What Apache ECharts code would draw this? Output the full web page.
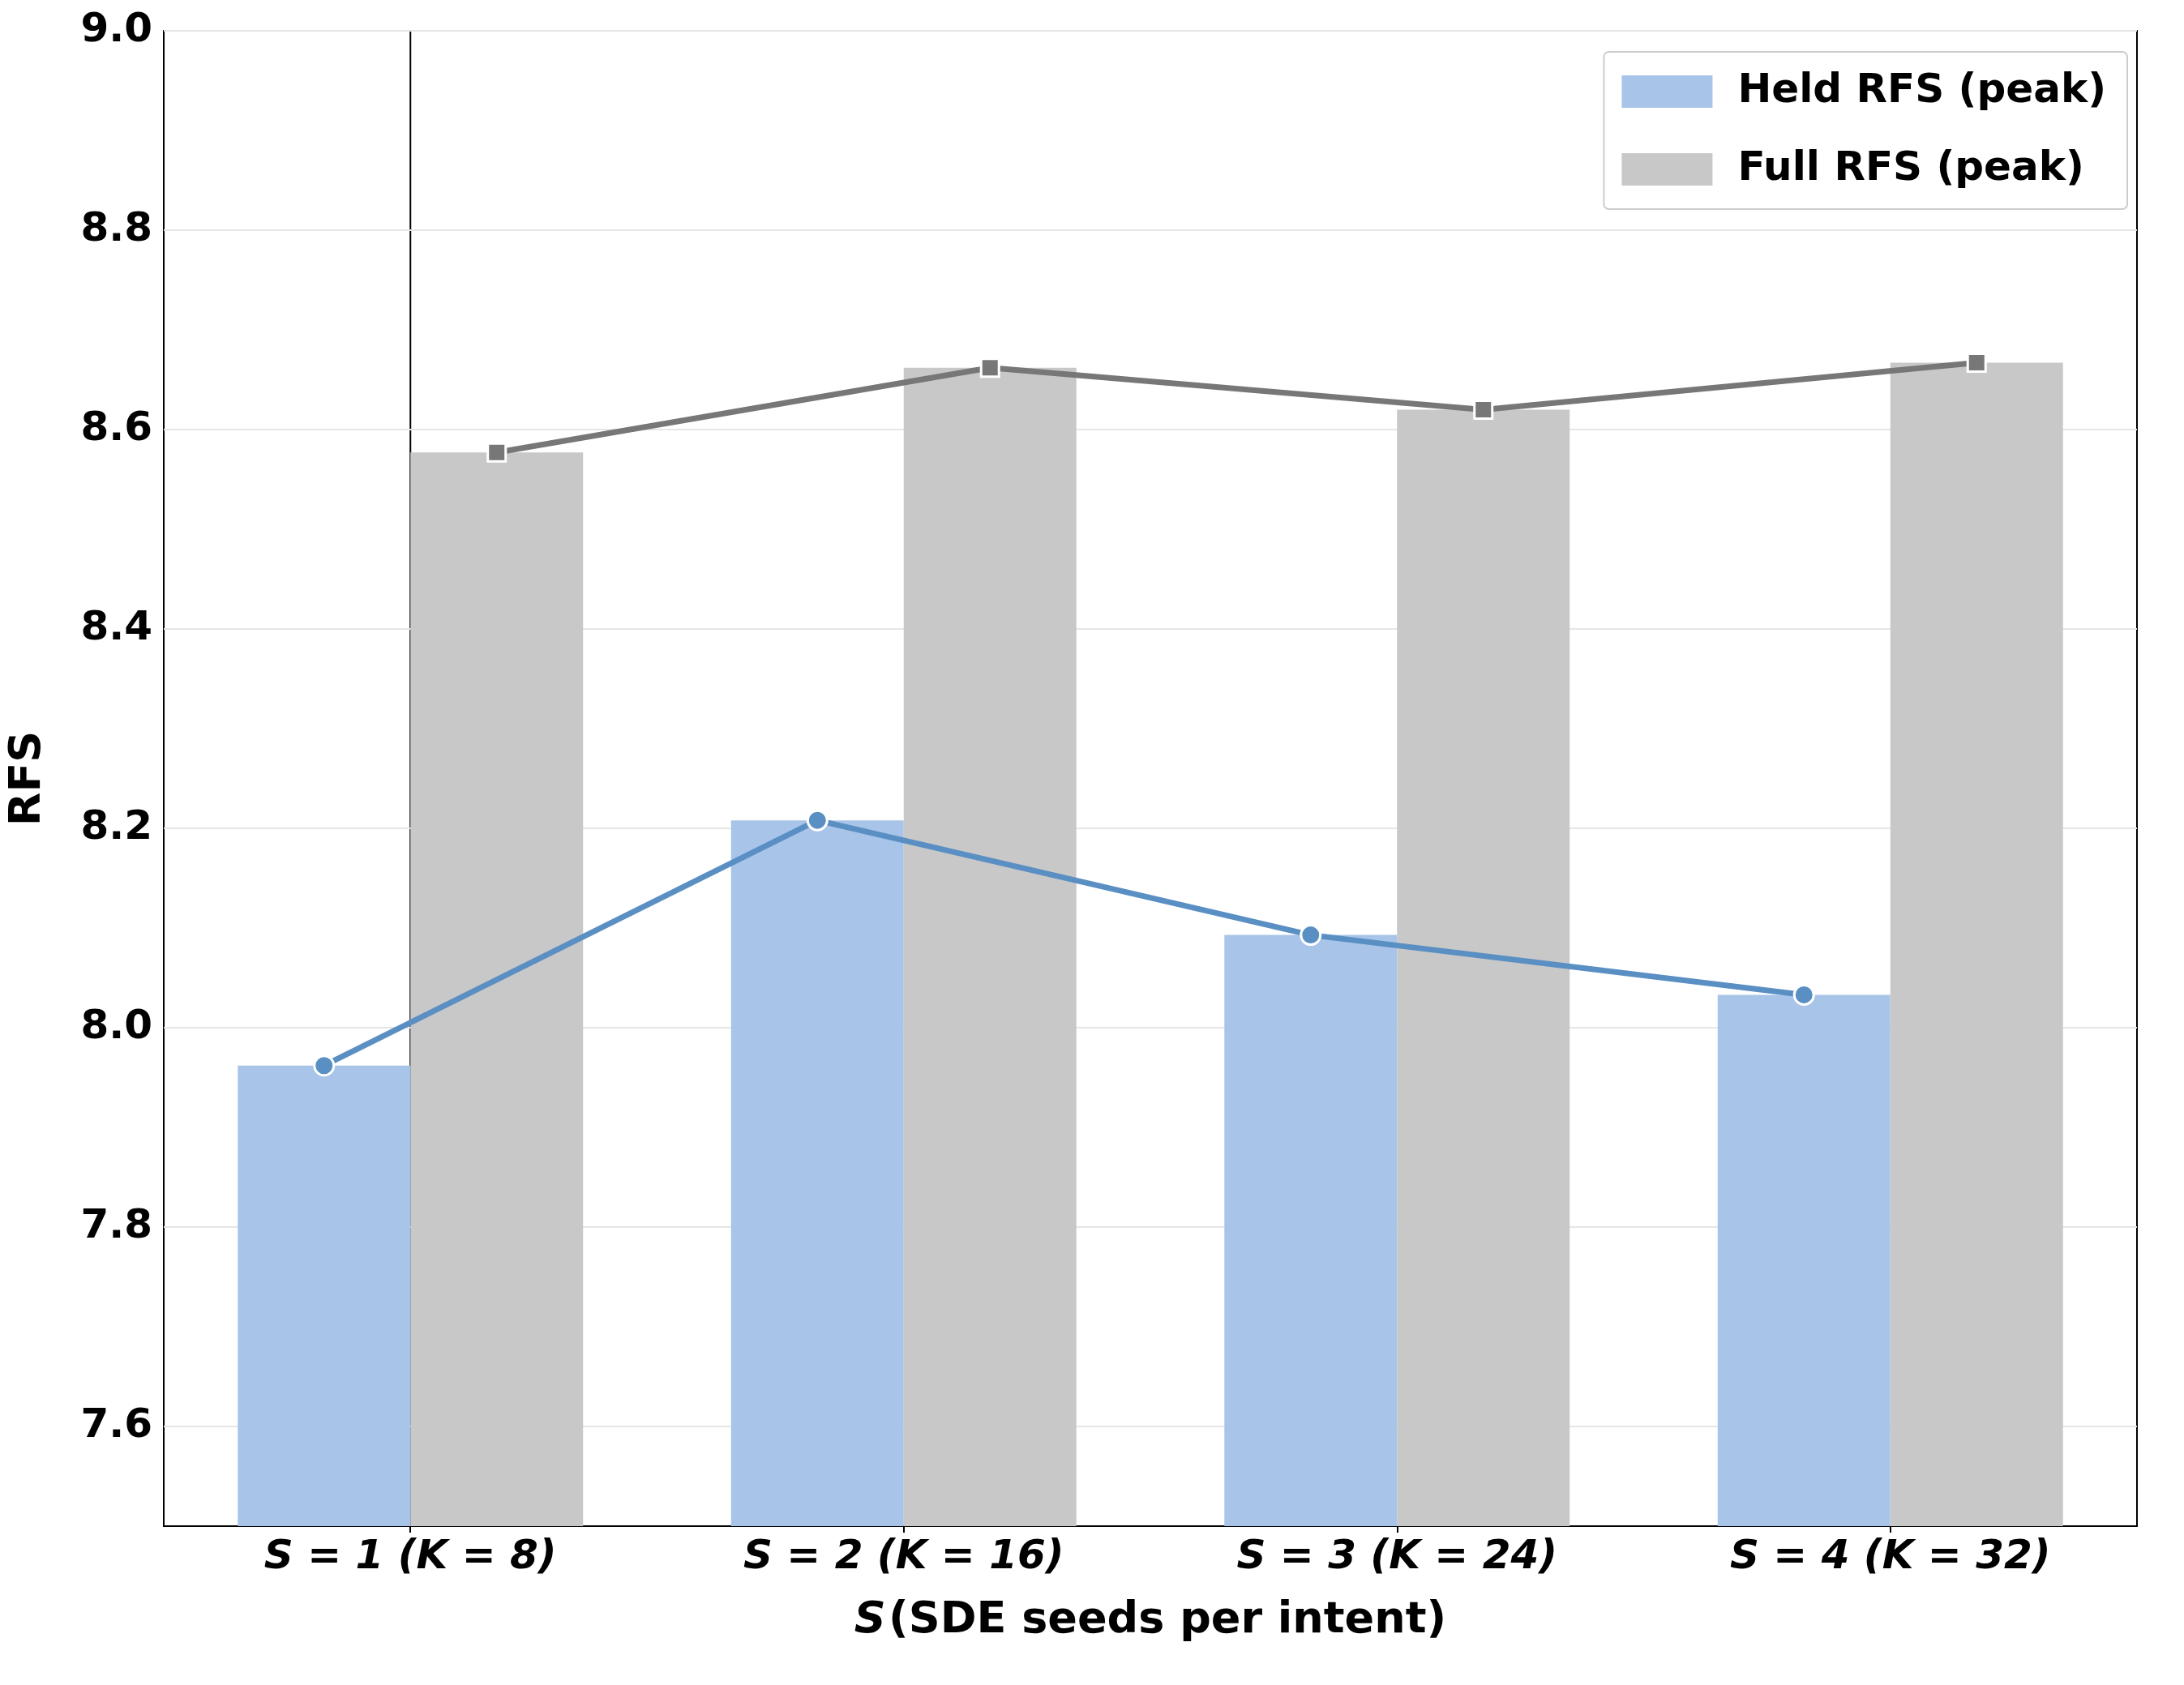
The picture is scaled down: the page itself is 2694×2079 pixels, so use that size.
<!DOCTYPE html>
<html><head><meta charset="utf-8">
<script src="https://cdn.jsdelivr.net/npm/echarts@6/dist/echarts.min.js"></script>
<style>html,body{margin:0;padding:0;background:#fff}#c{width:2694px;height:2079px}</style>
</head><body><div id="c"></div>
<script>
const categories = ['S = 1 (K = 8)', 'S = 2 (K = 16)', 'S = 3 (K = 24)', 'S = 4 (K = 32)'];
const heldRFS = [7.962, 8.208, 8.093, 8.033];
const fullRFS = [8.577, 8.662, 8.620, 8.667];
const yTicks = [7.6, 7.8, 8.0, 8.2, 8.4, 8.6, 8.8, 9.0];

const F = 'DejaVu Sans';
const chart = echarts.init(document.getElementById('c'));
chart.setOption({
  animation: false,
  grid: {left: 182, right: 58, top: 38, bottom: 196, show: true, borderColor: '#000', borderWidth: 2, backgroundColor: 'transparent'},
  legend: {
    right: 70, top: 64, orient: 'vertical', itemWidth: 112, itemHeight: 40, itemGap: 46,
    padding: [24, 26, 24, 22], borderColor: '#cccccc', borderWidth: 2, borderRadius: 6,
    textStyle: {fontFamily: F, fontWeight: 'bold', fontSize: 50, color: '#000', padding: [0,0,0,26]},
    data: [{name: 'Held RFS (peak)', icon: 'rect'}, {name: 'Full RFS (peak)', icon: 'rect'}]
  },
  xAxis: [
    {type: 'category', data: categories, axisLine: {lineStyle: {color: '#000', width: 2}},
     axisTick: {show: true, alignWithLabel: true, length: 8, lineStyle: {color: '#000', width: 2}},
     axisLabel: {fontFamily: F, fontWeight: 'bold', fontStyle: 'italic', fontSize: 50, color: '#000', margin: 14},
     name: '{i|S} {n|(SDE seeds per intent)}', nameLocation: 'middle', nameGap: 90,
     nameTextStyle: {rich: {i: {fontFamily: F, fontWeight: 'bold', fontStyle: 'italic', fontSize: 54, color: '#000'},
                            n: {fontFamily: F, fontWeight: 'bold', fontSize: 54, color: '#000'}}}},
    {type: 'value', min: -0.5, max: 3.5, show: false}
  ],
  yAxis: [
    {type: 'value', min: 7.5, max: 9.0,
     axisLine: {show: true, lineStyle: {color: '#000', width: 2}},
     axisTick: {show: true, customValues: yTicks, length: 8, lineStyle: {color: '#000', width: 2}},
     axisLabel: {customValues: yTicks, fontFamily: F, fontWeight: 'bold', fontSize: 50, color: '#000', margin: 14,
                 formatter: v => v.toFixed(1)},
     splitLine: {show: false},
     name: 'RFS', nameLocation: 'middle', nameGap: 140,
     nameTextStyle: {fontFamily: F, fontWeight: 'bold', fontSize: 54, color: '#000'}}
  ],
  series: [
    {name: 'Held RFS (peak)', type: 'bar', data: heldRFS, barWidth: '35%', barGap: '0%',
     itemStyle: {color: '#a8c4e8'}, z: 2,
     markLine: {silent: true, symbol: 'none', label: {show: false}, lineStyle: {color: '#e6e6e6', width: 2, type: 'solid'},
                data: yTicks.map(v => ({yAxis: v})), z: 1}},
    {name: 'Full RFS (peak)', type: 'bar', data: fullRFS, barWidth: '35%', barGap: '0%',
     itemStyle: {color: '#c8c8c8'}, z: 2},
    {name: 'heldLine', type: 'line', xAxisIndex: 1, data: heldRFS.map((v, i) => [i - 0.175, v]),
     symbol: 'circle', symbolSize: 24, lineStyle: {color: '#5a8fc4', width: 7},
     itemStyle: {color: '#5a8fc4', borderColor: '#fff', borderWidth: 3}, z: 5},
    {name: 'fullLine', type: 'line', xAxisIndex: 1, data: fullRFS.map((v, i) => [i + 0.175, v]),
     symbol: 'rect', symbolSize: 22, lineStyle: {color: '#777777', width: 7},
     itemStyle: {color: '#777777', borderColor: '#fff', borderWidth: 3}, z: 5}
  ]
});
</script></body></html>
